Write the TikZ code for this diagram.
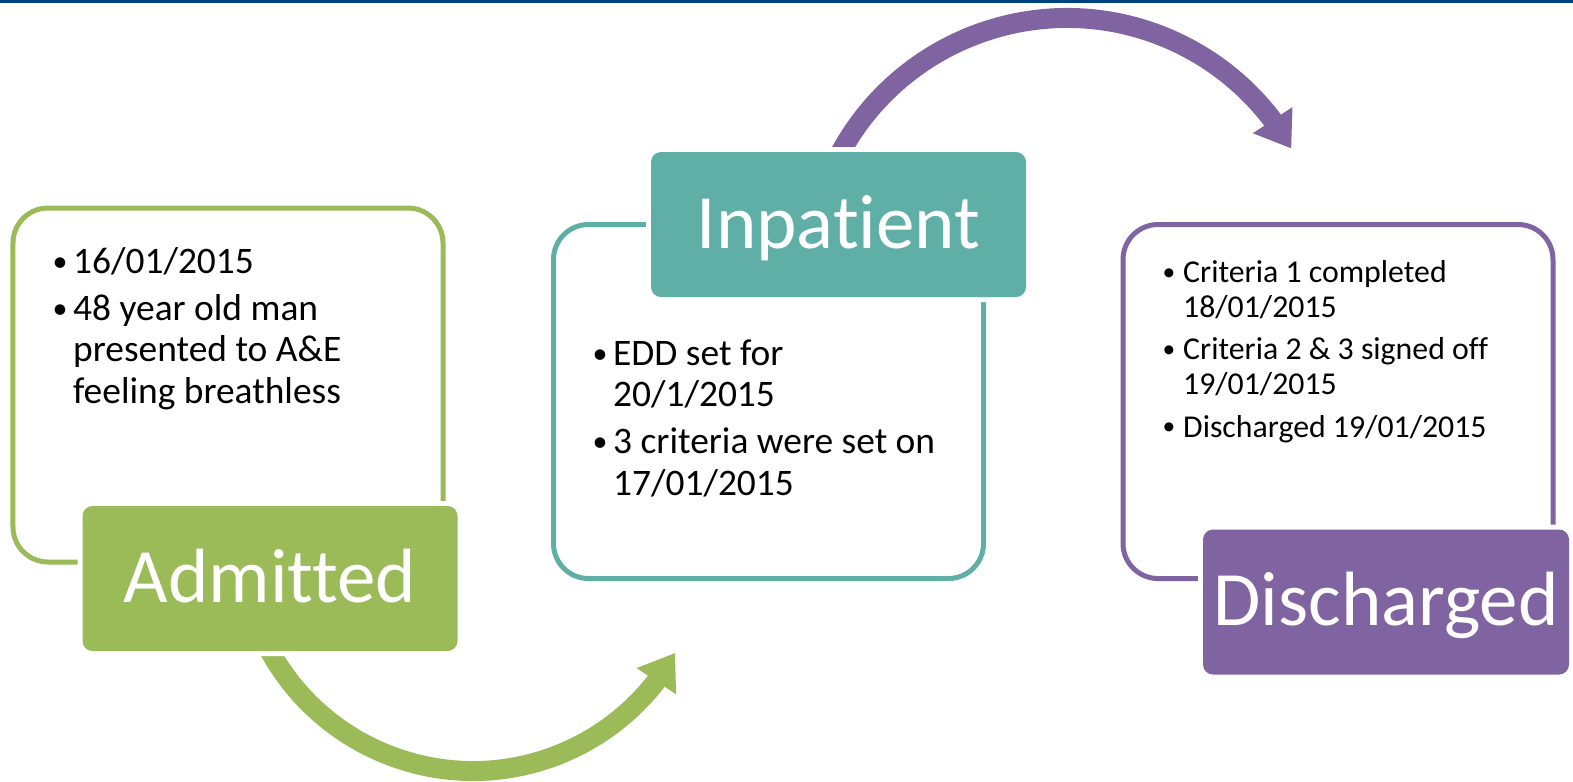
\documentclass[tikz,border=0pt]{standalone}
\usepackage{graphicx}
\usepackage{fontspec}
\setmainfont{Carlito}[Ligatures=NoCommon]
\usetikzlibrary{arrows.meta,bending}

\definecolor{admgreen}{HTML}{9BBB59}
\definecolor{inpteal}{HTML}{5FAFA6}
\definecolor{dispurple}{HTML}{8064A2}
\definecolor{topblue}{HTML}{00427F}

\newcommand{\bul}{\makebox[0.205cm][l]{\raisebox{0.07em}{\scalebox{0.8}{•}}}}
\newcommand{\ind}{\hspace*{0.205cm}}

\begin{document}
\begin{tikzpicture}[
  outline/.style={draw=#1, line width=0.05cm, rounded corners=0.35cm,
    minimum width=4.30cm, minimum height=3.54cm, inner sep=0pt},
  stage/.style={fill=#1, preaction={draw=white, line width=0.1cm},
    rounded corners=0.1cm, text=white, inner sep=0pt,
    minimum width=3.75cm, minimum height=1.45cm,
    font=\fontsize{21.9}{24}\selectfont, text height=0.47cm, text depth=0cm},
  bodytext/.style={anchor=base west, align=left, inner sep=0pt,
    font=\fontsize{10.65}{11.7}\selectfont},
  smalltext/.style={bodytext, font=\fontsize{9.05}{9.96}\selectfont},
  loop arrow/.style={draw=#1, line width=0.2cm,
    -{Triangle[width=0.45cm, length=0.34cm]}}
]
\useasboundingbox (0,0) rectangle (15.73,7.81);
\fill[topblue] (0,7.785) rectangle (15.73,7.81);

\node[outline=admgreen] (admbox) at (2.28,3.96) {};
\node[outline=inpteal] (inpbox) at (7.685,3.795) {};
\node[outline=dispurple] (disbox) at (13.38,3.795) {};

\coordinate (admturn) at (4.73,2.42);
\coordinate (inpturn) at (10.67,5.05);
\draw[loop arrow=admgreen] (admturn) ++(205:2.32)
  arc[start angle=205, end angle=330.6, radius=2.32];
\draw[loop arrow=dispurple] (inpturn) ++(155:2.58)
  arc[start angle=155, end angle=29.6, radius=2.58];

\node[stage=admgreen] (adm) at (2.70,2.025) {Admitted};
\node[stage=inpteal] (inp) at (8.385,5.565) {Inpatient};
\node[stage=dispurple, minimum width=3.66cm] (dis) at (13.86,1.79) {Discharged};

\node[bodytext] (admtext) at (0.52,3.78) {\bul 16/01/2015\\[1.7pt]
  \bul 48 year old man\\ \ind presented to A\&E\\ \ind feeling breathless};
\node[bodytext] (inptext) at (5.92,2.86) {\bul EDD set for\\ \ind 20/1/2015\\[1.7pt]
  \bul 3 criteria were set on\\ \ind 17/01/2015};
\node[smalltext] (distext) at (11.62,3.44) {\bul Criteria 1 completed\\ \ind 18/01/2015\\[2pt]
  \bul Criteria 2 \& 3 signed off\\ \ind 19/01/2015\\[2pt]
  \bul Discharged 19/01/2015};

\end{tikzpicture}
\end{document}
